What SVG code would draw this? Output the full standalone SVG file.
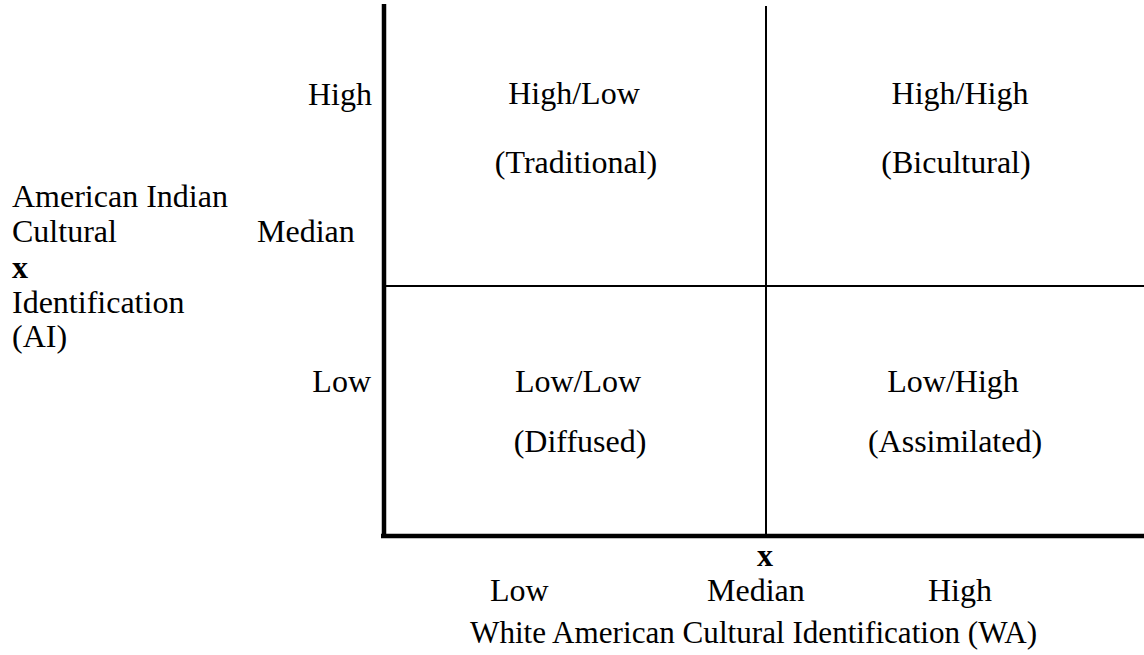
<svg xmlns="http://www.w3.org/2000/svg" width="1144" height="655" viewBox="0 0 1144 655">
<style>
text{font-family:"Liberation Serif","Times New Roman",serif;font-size:32px;fill:#000}
.c{text-anchor:middle}
.r{text-anchor:end}
.b{font-weight:bold}
.axis{stroke:#000;stroke-width:4.5;fill:none}
.thin{stroke:#000;stroke-width:2;fill:none}
</style>
<rect width="1144" height="655" fill="#fff"/>
<g id="connectors">
<line class="thin" x1="766" y1="6" x2="766" y2="536"/>
<line class="thin" x1="384" y1="286" x2="1144" y2="286"/>
<line class="axis" x1="384" y1="4" x2="384" y2="538"/>
<line class="axis" x1="381" y1="536" x2="1144" y2="536"/>
</g>
<g id="q-high-low"><text class="c" x="574" y="104">High/Low</text><text class="c" x="576" y="173">(Traditional)</text></g>
<g id="q-high-high"><text class="c" x="960" y="104">High/High</text><text class="c" x="956" y="173">(Bicultural)</text></g>
<g id="q-low-low"><text class="c" x="578" y="392">Low/Low</text><text class="c" x="580" y="452">(Diffused)</text></g>
<g id="q-low-high"><text class="c" x="953" y="392">Low/High</text><text class="c" x="955" y="452">(Assimilated)</text></g>
<g id="y-axis-labels">
<text class="r" x="372" y="105">High</text>
<text x="257" y="242">Median</text>
<text class="r" x="371" y="392">Low</text>
</g>
<g id="y-axis-title">
<text x="12" y="207">American Indian</text>
<text x="12" y="242">Cultural</text>
<text x="12" y="278" class="b">x</text>
<text x="12" y="313">Identification</text>
<text x="12" y="347">(AI)</text>
</g>
<g id="x-axis-labels">
<text class="c b" x="765" y="566">x</text>
<text x="490" y="601">Low</text>
<text x="707" y="601">Median</text>
<text x="928" y="601">High</text>
<text x="470" y="643" textLength="567" lengthAdjust="spacingAndGlyphs">White American Cultural Identification (WA)</text>
</g>
</svg>
